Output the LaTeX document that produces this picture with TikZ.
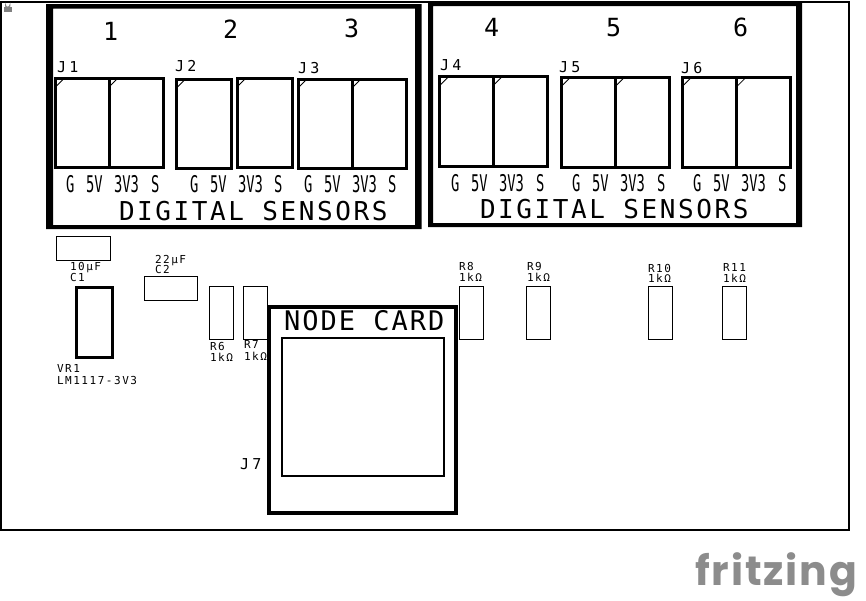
\documentclass[tikz,border=0pt]{standalone}
\usepackage{fontspec}
\newfontfamily\ocr{DejaVu Sans Mono}
\newfontfamily\logofont{Poppins}
\definecolor{logogray}{HTML}{8C8C8C}
\tikzset{
  txt/.style={inner sep=0pt,outer sep=0pt,anchor=base west,text=black},
  small/.style={txt,font=\ocr\addfontfeature{LetterSpace=14}\fontsize{11}{11}\selectfont},
  jlabel/.style={txt,font=\ocr\addfontfeature{LetterSpace=22}\fontsize{15}{15}\selectfont},
  pinlabel/.style={txt,font=\ocr\fontsize{23}{23}\selectfont,xscale=.6},
  numlabel/.style={txt,font=\ocr\fontsize{25}{25}\selectfont},
  titlelabel/.style={txt,font=\ocr\addfontfeature{LetterSpace=10}\fontsize{26}{26}\selectfont},
  cardlabel/.style={txt,font=\ocr\addfontfeature{LetterSpace=7.5}\fontsize{27}{27}\selectfont},
  part/.style={draw=black,line width=1pt},
  conn/.style={draw=black,line width=3pt},
  pinone/.style={draw=black,line width=.8pt},
  frameblack/.style={fill=black,even odd rule},
}
\newcommand{\cell}[4]{% x0 x1 y0 y1 : one connector cell with its pin-1 mark
  \draw[conn] (#1,#3) rectangle (#2,#4);
  \draw[pinone] (#1+8,#3+1) -- (#1+1,#3+8);
}
\newcommand{\pins}[6]{% name G 5V 3V3 S baseline
  \node[pinlabel] (#1g) at (#2,#6) {G};
  \node[pinlabel] (#1f) at (#3,#6) {5V};
  \node[pinlabel] (#1t) at (#4,#6) {3V3};
  \node[pinlabel] (#1s) at (#5,#6) {S};
}
\begin{document}
\begin{tikzpicture}[x=1pt,y=-1pt]
\useasboundingbox (0,0) rectangle (866,600);
\fill[white] (0,0) rectangle (866,600);
% board outline
\draw[line width=2pt] (0.5,2) rectangle (849,530);
% lock
\fill[gray] (4,6.5) rectangle (11.5,11.5);
\draw[gray,line width=1pt] (5.5,6.5) -- (5.5,5) arc[start angle=180,end angle=0,radius=2.2] -- (9.9,6.5);
% big frames
\fill[frameblack] (46,4) rectangle (421.5,229) (53,8.5) rectangle (415,225);
\fill[frameblack] (428,2) rectangle (802,227) (433,6) rectangle (796,223);
% connectors
\cell{55.5}{109}{78}{167}
\cell{109}{163.5}{78}{167}
\cell{176.5}{231}{79}{168}
\cell{237}{292}{78}{167}
\cell{298}{352}{79}{168}
\cell{352}{406}{79}{168}
\cell{439.5}{493}{76.7}{166}
\cell{493}{547.7}{76.7}{166}
\cell{561}{615}{77.7}{167}
\cell{615}{669}{77.7}{167}
\cell{682}{736.7}{77.7}{167}
\cell{736.7}{790.7}{77.7}{167}
% numbers
\node[numlabel] (n1) at (103,40) {1};
\node[numlabel] (n2) at (223,38) {2};
\node[numlabel] (n3) at (344,37) {3};
\node[numlabel] (n4) at (484,36) {4};
\node[numlabel] (n5) at (606,36) {5};
\node[numlabel] (n6) at (733,36) {6};
% J labels
\node[jlabel] (j1) at (57,72) {J1};
\node[jlabel] (j2) at (175,71) {J2};
\node[jlabel] (j3) at (298,73) {J3};
\node[jlabel] (j4) at (440,70) {J4};
\node[jlabel] (j5) at (559,72) {J5};
\node[jlabel] (j6) at (681,73) {J6};
\node[jlabel] (j7) at (240,469) {J7};
% pin labels
\pins{a}{66}{86}{114}{151}{192}
\pins{b}{190}{210}{238}{274}{192}
\pins{c}{304}{324}{352}{388}{192}
\pins{d}{451}{471}{499}{536}{191}
\pins{e}{572}{592}{620}{657}{191}
\pins{f}{693}{713}{741}{778}{191}
% titles
\node[titlelabel] (ds1) at (119,220) {DIGITAL SENSORS};
\node[titlelabel] (ds2) at (480,218) {DIGITAL SENSORS};
% small parts
\draw[part] (56.7,236.7) rectangle (110,260);
\draw[part] (144,276.7) rectangle (197,300);
\draw[part] (209.7,286) rectangle (233.3,339.3);
\draw[part] (243.7,286) rectangle (267.7,339.3);
\draw[part] (459,286) rectangle (483,339.3);
\draw[part] (526.7,286) rectangle (550.7,339.3);
\draw[part] (648,286) rectangle (672,339.3);
\draw[part] (722.3,286) rectangle (746.3,339.3);
\draw[conn] (76.7,287) rectangle (112,357.7);
% node card
\draw[line width=4pt] (269,307) rectangle (456,513);
\draw[line width=2pt] (282,337.7) rectangle (444,476);
\node[cardlabel] (nc) at (284,330) {NODE CARD};
% part labels
\node[small] (c1v) at (70,270) {10µF};
\node[small] (c1) at (70,281) {C1};
\node[small] (c2v) at (155,263) {22µF};
\node[small] (c2) at (155,273) {C2};
\node[small] (vr1) at (57,372) {VR1};
\node[small] (vr1v) at (57,384) {LM1117-3V3};
\node[small] (r6) at (210,350) {R6};
\node[small] (r6v) at (210,361) {1kΩ};
\node[small] (r7) at (244,348) {R7};
\node[small] (r7v) at (244,360) {1kΩ};
\node[small] (r8) at (459,270) {R8};
\node[small] (r8v) at (459,281) {1kΩ};
\node[small] (r9) at (527,270) {R9};
\node[small] (r9v) at (527,281) {1kΩ};
\node[small] (r10) at (648,272) {R10};
\node[small] (r10v) at (648,282) {1kΩ};
\node[small] (r11) at (723,271) {R11};
\node[small] (r11v) at (723,282) {1kΩ};
% logo
\node[inner sep=0pt,anchor=base west,text=logogray,font=\logofont\bfseries\addfontfeature{LetterSpace=4.5}\fontsize{41}{41}\selectfont] (logo) at (695,585) {fritzing};
\end{tikzpicture}
\end{document}
